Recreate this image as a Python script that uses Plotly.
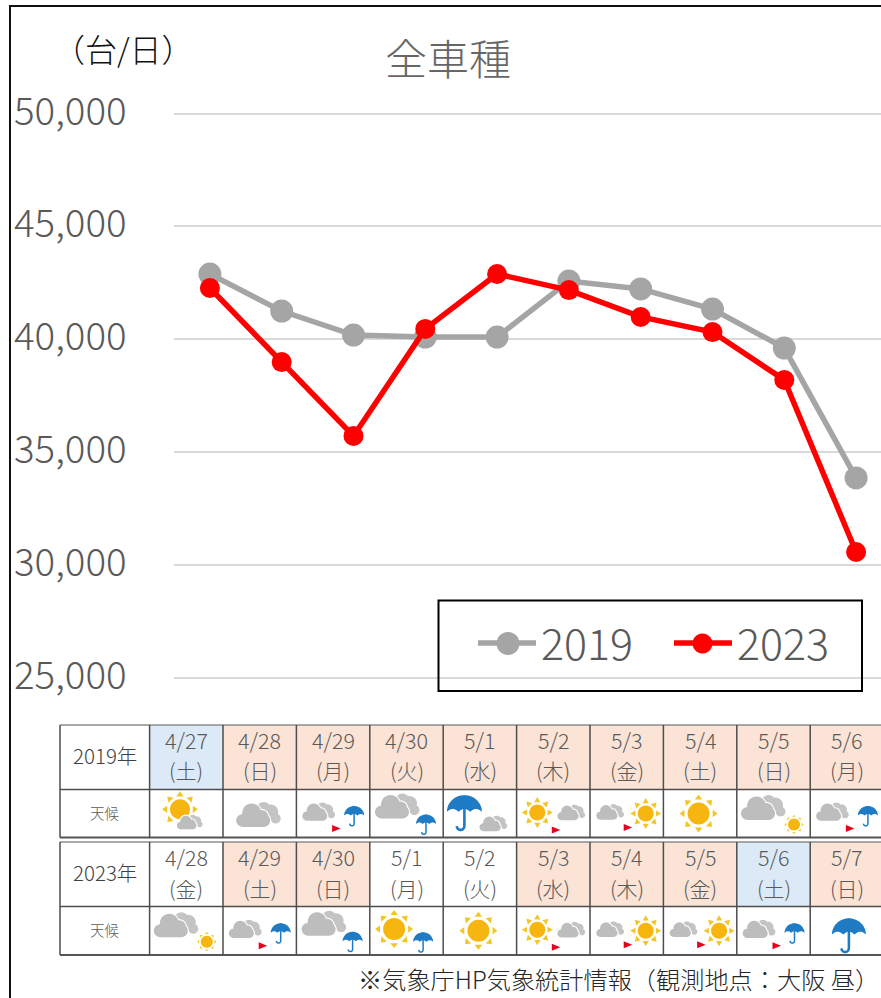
import numpy as np
import plotly.graph_objects as go

FONT = "Noto Sans CJK JP"
W, H = 881, 998

# ---------- data ----------
point_index = list(range(10))
values_2019 = [42890, 41250, 40190, 40100, 40100, 42580, 42230, 41340, 39610, 33860]
values_2023 = [42270, 38990, 35720, 40460, 42890, 42180, 40990, 40320, 38200, 30580]
y_ticks = [25000, 30000, 35000, 40000, 45000, 50000]
y_tick_labels = ["25,000", "30,000", "35,000", "40,000", "45,000", "50,000"]

dates_2019 = ["4/27", "4/28", "4/29", "4/30", "5/1", "5/2", "5/3", "5/4", "5/5", "5/6"]
days_2019 = ["土", "日", "月", "火", "水", "木", "金", "土", "日", "月"]
shade_2019 = ["sat", "hol", "hol", "hol", "hol", "hol", "hol", "hol", "hol", "hol"]
weather_2019 = ["sun/cloud", "cloud", "cloud>rain", "cloud/rain", "rain/cloud",
                "sun>cloud", "cloud>sun", "sun", "cloud/sun", "cloud>rain"]

dates_2023 = ["4/28", "4/29", "4/30", "5/1", "5/2", "5/3", "5/4", "5/5", "5/6", "5/7"]
days_2023 = ["金", "土", "日", "月", "火", "水", "木", "金", "土", "日"]
shade_2023 = ["", "hol", "hol", "", "", "hol", "hol", "hol", "sat", "hol"]
weather_2023 = ["cloud/sun", "cloud>rain", "cloud/rain", "sun/rain", "sun",
                "sun>cloud", "cloud>sun", "cloud>sun", "cloud>rain", "rain"]

# ---------- helpers (pixel space to paper space) ----------
def X(px):
    return px / W


def Y(py):
    return 1 - py / H


shapes, annotations = [], []


def poly(points):
    return "M" + " L".join(f"{X(x):.5f},{Y(y):.5f}" for x, y in points) + " Z"


def circle_pts(cx, cy, r, n=28):
    t = np.linspace(0, 2 * np.pi, n, endpoint=False)
    return list(zip(cx + r * np.cos(t), cy + r * np.sin(t)))


def add_path(path, fill=None, line=None, lw=0):
    shapes.append(dict(type="path", path=path, xref="paper", yref="paper",
                       fillcolor=fill if fill else "rgba(0,0,0,0)", fillrule="nonzero",
                       line=dict(color=line if line else "rgba(0,0,0,0)", width=lw), layer="above"))


def rect(x0, y0, x1, y1, fill=None, line=None, lw=0, layer="above"):
    shapes.append(dict(type="rect", xref="paper", yref="paper", x0=X(x0), x1=X(x1), y0=Y(y0), y1=Y(y1),
                       fillcolor=fill if fill else "rgba(0,0,0,0)",
                       line=dict(color=line if line else "rgba(0,0,0,0)", width=lw), layer=layer))


def hline(x0, x1, y, color, lw):
    shapes.append(dict(type="line", xref="paper", yref="paper", x0=X(x0), x1=X(x1), y0=Y(y), y1=Y(y),
                       line=dict(color=color, width=lw), layer="above"))


def vline(x, y0, y1, color, lw):
    shapes.append(dict(type="line", xref="paper", yref="paper", x0=X(x), x1=X(x), y0=Y(y0), y1=Y(y1),
                       line=dict(color=color, width=lw), layer="above"))


def text(x, y, s, size, color="#595959", anchor="center", weight=400):
    annotations.append(dict(x=X(x), y=Y(y), xref="paper", yref="paper", text=s, showarrow=False,
                            xanchor=anchor, yanchor="middle",
                            font=dict(family=FONT, size=size, color=color, weight=weight)))


def cloud(cx, cy, w):
    s = w / 45.0
    back = [circle_pts(cx + 6 * s, cy - 8 * s, 7 * s), circle_pts(cx + 13 * s, cy - 5 * s, 7.5 * s),
            circle_pts(cx + 18 * s, cy + 1.5 * s, 5 * s)]
    add_path(" ".join(poly(p) for p in back), fill="#C4C4C4")
    front = [circle_pts(cx - 6 * s, cy - 4 * s, 9.5 * s), circle_pts(cx + 4 * s, cy - 0.5 * s, 6.5 * s),
             circle_pts(cx - 15 * s, cy + 3.5 * s, 6.5 * s), circle_pts(cx + 6 * s, cy + 3.5 * s, 6.5 * s),
             [(cx - 15 * s, cy + 10 * s), (cx + 6 * s, cy + 10 * s), (cx + 6 * s, cy), (cx - 15 * s, cy)][::-1]]
    add_path(" ".join(poly(p) for p in front), fill="rgba(255,255,255,1)", line="white", lw=2.2)
    add_path(" ".join(poly(p) for p in front), fill="#BDBDBD")


def sun(cx, cy, core, outer):
    rays = []
    for a in np.arange(8) * np.pi / 4:
        d = np.array([np.cos(a), np.sin(a)])
        n = np.array([-d[1], d[0]])
        base = core * 1.28
        half = outer * 0.2
        c = np.array([cx, cy])
        rays.append(poly([tuple(c + d * base + n * half), tuple(c + d * outer), tuple(c + d * base - n * half)]))
    add_path(" ".join(rays), fill="#F2C628")
    add_path(poly(circle_pts(cx, cy, core)), fill="#F6B60F")


def umbrella(cx, cy, w):
    r = w / 2.0
    top = cy - r * 0.52
    t = np.linspace(np.pi, 2 * np.pi, 22)
    arc = list(zip(cx + r * np.cos(t), top + r * 0.95 * np.sin(t) + r * 0.62))
    scallop = []
    for i in range(3, 0, -1):
        x0 = cx - r + 2 * r * i / 3
        x1 = cx - r + 2 * r * (i - 1) / 3
        for u in np.linspace(0, 1, 6)[1:]:
            scallop.append((x0 + (x1 - x0) * u, top + r * 0.62 - r * 0.16 * np.sin(np.pi * u)))
    add_path(poly(arc + scallop), fill="#1E7BC4")
    # stem and hook
    lw = max(1.2, w * 0.075)
    hook_r = r * 0.22
    h = np.linspace(0, np.pi, 8)
    stem_end = cy + r * 0.92
    pts = [(cx, top - r * 0.3), (cx, stem_end)] + list(zip(cx - hook_r + hook_r * np.cos(h), stem_end + hook_r * np.sin(h)))
    add_path("M" + " L".join(f"{X(x):.5f},{Y(y):.5f}" for x, y in pts), line="#1E7BC4", lw=lw)


def flag(cx, cy):
    add_path(poly([(cx - 4, cy - 3.5), (cx + 4.5, cy), (cx - 4, cy + 3.5)]), fill="#E8001C")


def weather(code, cx, cy):
    if code == "sun":
        sun(cx - 1.5, cy, 11, 19)
    elif code == "cloud":
        cloud(cx - 2, cy + 3.5, 45)
    elif code == "rain":
        umbrella(cx + 2, cy + 2, 34)
    elif code == "sun/cloud":
        sun(cx - 6.3, cy - 4.2, 10, 18)
        cloud(cx + 3, cy + 10, 26)
    elif code == "cloud/rain":
        cloud(cx - 10, cy - 5, 45)
        umbrella(cx + 19.5, cy + 9.5, 20)
    elif code == "rain/cloud":
        umbrella(cx - 15.5, cy - 3.5, 35)
        cloud(cx + 13, cy + 11.5, 28)
    elif code == "cloud/sun":
        cloud(cx - 11, cy - 3.5, 45)
        sun(cx + 20.5, cy + 11, 6, 9.5)
    elif code == "sun/rain":
        sun(cx - 12.4, cy - 1.7, 11, 19)
        umbrella(cx + 16.6, cy + 10, 20)
    elif code == "cloud>rain":
        cloud(cx - 15, cy, 33)
        flag(cx + 3, cy + 15)
        umbrella(cx + 21, cy + 1, 20)
    elif code == "sun>cloud":
        sun(cx - 16, cy - 1, 8, 15.5)
        cloud(cx + 17.5, cy + 0.5, 28)
        flag(cx + 2.5, cy + 16.5)
    elif code == "cloud>sun":
        cloud(cx - 17, cy, 28)
        sun(cx + 19, cy, 8, 15.5)
        flag(cx + 1, cy + 14)


# ---------- frame ----------
hline(9, W, 6, "#111111", 2)
vline(10, 5, H, "#111111", 2)

# ---------- weather tables ----------
COL0, COL1, STEP = 60, 149.6, 73.4
PEACH, BLUE, GRID = "#FBE3D6", "#DCEAF7", "#4D4D4D"


def table(label, dates, days, shade, codes, top, mid, bottom, day_off):
    for i in range(10):
        x0 = COL1 + i * STEP
        if shade[i]:
            rect(x0, top, x0 + STEP, mid, fill=PEACH if shade[i] == "hol" else BLUE)
    for y, c, lw in [(top, "#8C8C8C", 1.5), (mid, GRID, 1.5), (bottom, "#555555", 2)]:
        hline(COL0, W, y, c, lw)
    vline(COL0, top, bottom, GRID, 1.5)
    for i in range(10):
        vline(COL1 + i * STEP, top, bottom, GRID, 1.5)
    text((COL0 + COL1) / 2, (top + mid) / 2 - 2, label, 20.5, "#404040", weight=300)
    text((COL0 + COL1) / 2, (mid + bottom) / 2 - 1.5, "天候", 14.5, "#595959", weight=300)
    for i in range(10):
        cx = COL1 + (i + 0.5) * STEP
        text(cx, top + 14, dates[i], 21.5, "#595959", weight=300)
        text(cx, top + day_off, f"({days[i]})", 21, "#595959", weight=300)
        weather(codes[i], cx, (mid + bottom) / 2)


table("2019年", dates_2019, days_2019, shade_2019, weather_2019, 725, 789.5, 837.5, 45)
table("2023年", dates_2023, days_2023, shade_2023, weather_2023, 842, 906.5, 955, 46)

# ---------- titles ----------
text(448, 56, "全車種", 42, "#666666", weight=300)
text(123, 47.5, "（台/日）", 32, "#111111", weight=300)
text(881, 978, "※気象庁HP気象統計情報（観測地点：大阪 昼）", 24.2, "#262626", anchor="right", weight=300)

# legend box (transparent, grid line stays visible) and legend marker discs
rect(438.5, 600.5, 862, 691, line="#000000", lw=2)
add_path(poly(circle_pts(508, 643.5, 11.5)), fill="#A5A5A5")
add_path(poly(circle_pts(702.5, 643.5, 10)), fill="#FF0000")

# y tick labels through the axis scale
for v, s in zip(y_ticks, y_tick_labels):
    annotations.append(dict(x=X(129), y=v, xref="paper", yref="y", text=s, showarrow=False,
                            xanchor="right", yanchor="middle", yshift=6,
                            font=dict(family=FONT, size=38.5, color="#595959", weight=300)))

# ---------- chart ----------
fig = go.Figure()
fig.add_trace(go.Scatter(x=point_index, y=values_2019, name="2019", mode="lines+markers",
                         line=dict(color="#A5A5A5", width=5.5), marker=dict(color="#A5A5A5", size=23)))
fig.add_trace(go.Scatter(x=point_index, y=values_2023, name="2023", mode="lines+markers",
                         line=dict(color="#FF0000", width=5.5), marker=dict(color="#FF0000", size=20)))

PX_PER_UNIT = 112.9 / 5000
fig.update_layout(
    width=W, height=H, autosize=False,
    margin=dict(l=0, r=0, t=0, b=0, pad=0, autoexpand=False),
    paper_bgcolor="white", plot_bgcolor="white",
    font=dict(family=FONT, color="#595959"),
    xaxis=dict(domain=[174 / W, 1], range=[-0.5, 9.347], visible=False, fixedrange=True),
    yaxis=dict(domain=[Y(700), Y(95)], range=[25000 - 22 / PX_PER_UNIT, 50000 + 18.5 / PX_PER_UNIT],
               tickvals=y_ticks, showticklabels=False,
               showgrid=True, gridcolor="#D9D9D9", gridwidth=2, zeroline=False, showline=False, ticks="",
               fixedrange=True),
    showlegend=True,
    legend=dict(orientation="h", x=X(473), y=Y(643), xanchor="left", yanchor="middle",
                xref="paper", yref="paper", itemwidth=58, entrywidth=123, entrywidthmode="pixels",
                bgcolor="rgba(0,0,0,0)", font=dict(family=FONT, size=43, color="#595959", weight=300),
                itemclick=False, itemdoubleclick=False),
    shapes=shapes, annotations=annotations,
)

fig.write_html("out.html", config=dict(displayModeBar=False),
               post_script="document.body.style.margin='0';document.documentElement.style.overflow='hidden';")
